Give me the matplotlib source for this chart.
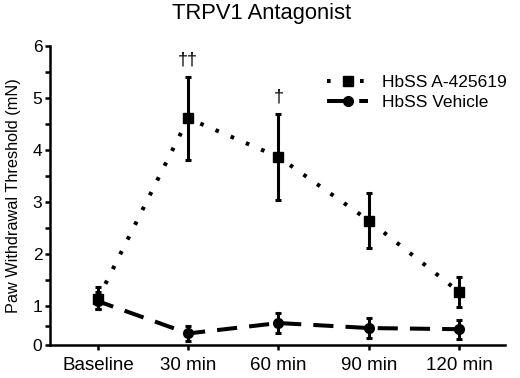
import matplotlib
matplotlib.use("Agg")
import matplotlib.pyplot as plt
import numpy as np
from matplotlib.lines import Line2D
from matplotlib.ticker import FixedLocator

plt.rcParams["font.family"] = ["Liberation Sans", "DejaVu Sans"]

# data
timepoints = ["Baseline", "30 min", "60 min", "90 min", "120 min"]
antagonist_mean = [1.15, 4.61, 3.87, 2.65, 1.28]
antagonist_sem = [0.22, 0.79, 0.83, 0.52, 0.29]
vehicle_mean = [1.10, 0.30, 0.57, 0.44, 0.41]
vehicle_sem = [0.17, 0.20, 0.27, 0.27, 0.25]
significance = ["", "††", "†", "", ""]

# the y axis in the reference is squeezed between 0 and 1
K = 0.74


def fwd(y):
    y = np.asarray(y, dtype=float)
    return np.where(y < 1, y * K, K + (y - 1))


def inv(t):
    t = np.asarray(t, dtype=float)
    return np.where(t < K, t / K, t - K + 1)


fig = plt.figure(figsize=(5.2, 3.78), dpi=100)
ax = fig.add_axes([50 / 520, 1 - 345 / 378, 455 / 520, 299 / 378])
ax.set_yscale("function", functions=(fwd, inv))

x = np.arange(len(timepoints))
lw = 2.2
dotted = (0, (0.9, 3.2))
dashed = (1, (5, 3))

ax.errorbar(x, antagonist_mean, yerr=antagonist_sem, color="black",
            linestyle=dotted, linewidth=2.9, dash_capstyle="butt",
            marker="s", markersize=7, elinewidth=lw, capsize=2.3,
            capthick=lw, zorder=3)
ax.errorbar(x, vehicle_mean, yerr=vehicle_sem, color="black",
            linestyle=dashed, linewidth=2.9,
            marker="o", markersize=7, elinewidth=lw, capsize=2.3,
            capthick=lw, zorder=3)

for xi, m, s, lab in zip(x, antagonist_mean, antagonist_sem, significance):
    if lab:
        ax.annotate(lab, (xi, m + s), xytext=(0, 6), textcoords="offset points",
                    ha="center", va="bottom", fontsize=13)

ax.set_xlim(-0.532, 4.51)
ax.set_ylim(0, 6)
ax.set_xticks(x)
ax.set_xticklabels(timepoints, fontsize=13.5)
ax.yaxis.set_major_locator(FixedLocator(range(0, 7)))
ax.yaxis.set_minor_locator(FixedLocator(np.arange(0.5, 6, 1.0)))
ax.yaxis.set_major_formatter(plt.FormatStrFormatter("%d"))
ax.yaxis.set_minor_formatter(plt.NullFormatter())
ax.tick_params(axis="y", labelsize=12.5, width=1.8, length=3.5, pad=2)
ax.tick_params(axis="y", which="minor", width=1.8, length=3.5)
ax.tick_params(axis="x", width=1.8, length=3.5, pad=5)

for side in ["top", "right"]:
    ax.spines[side].set_visible(False)
for side in ["left", "bottom"]:
    ax.spines[side].set_linewidth(1.8)

ax.set_ylabel("Paw Withdrawal Threshold (mN)", fontsize=11.7, labelpad=8)
fig.text(262 / 520, 1 - 14 / 378, "TRPV1 Antagonist", ha="center",
         va="center", fontsize=15.8)

handles = [
    Line2D([], [], color="black", linestyle=dotted, linewidth=2.9,
           marker="s", markersize=7),
    Line2D([], [], color="black", linestyle=(0, (5, 3)), linewidth=2.9,
           marker="o", markersize=7),
]
fig.legend(handles, ["HbSS A-425619", "HbSS Vehicle"], loc="upper left",
           bbox_to_anchor=(318 / 520, 1 - 66 / 378), frameon=False,
           fontsize=12.5, handlelength=2.4, handletextpad=0.8,
           labelspacing=0.3, borderpad=0)

fig.savefig("out.png", dpi=100)
